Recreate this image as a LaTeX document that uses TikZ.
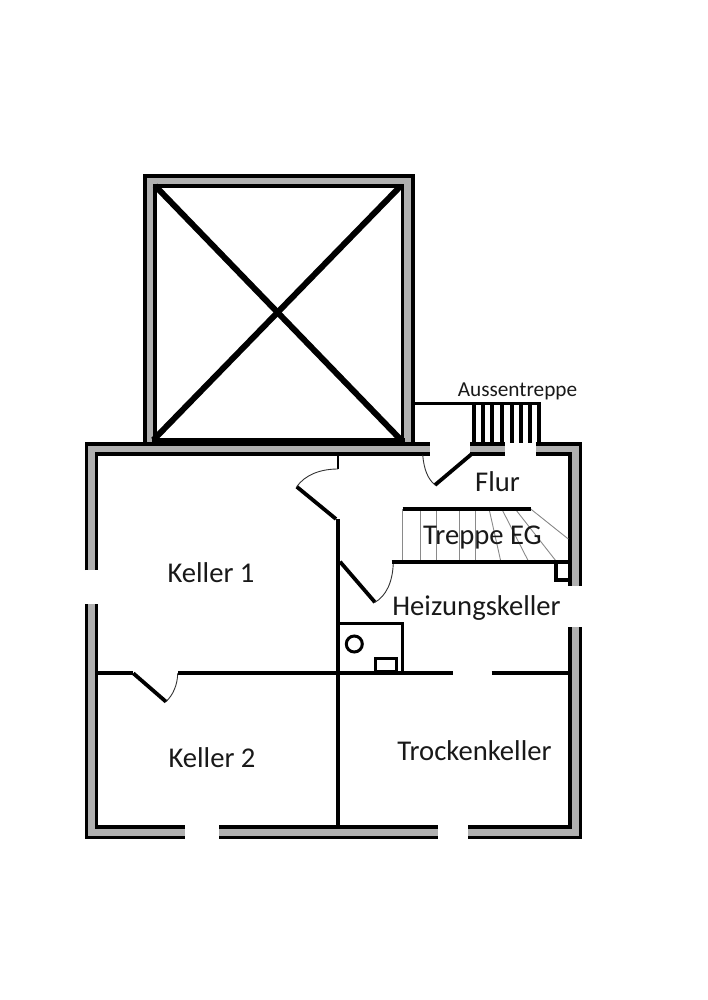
\documentclass[tikz,border=0pt]{standalone}
\usepackage{fontspec}
\setmainfont{Carlito}
\definecolor{wallgrey}{HTML}{B0B0B0}
\definecolor{treadgrey}{HTML}{8A8A8A}
\newcommand{\pxw}{0.5669pt}
\tikzset{
  x=0.02cm,y=-0.02cm,
  wallouter/.style={line width=13.8*\pxw,black,line cap=butt,line join=miter},
  wallinner/.style={line width=7*\pxw,wallgrey,line cap=butt,line join=miter},
  heavy/.style={line width=3.7*\pxw,black},
  medium/.style={line width=2.8*\pxw,black},
  diag/.style={line width=6*\pxw,black},
  doorleaf/.style={line width=3.8*\pxw,black},
  swing/.style={line width=0.9*\pxw,black!80},
  tread/.style={line width=0.9*\pxw,treadgrey},
  roomlabel/.style={font=\fontsize{16.3pt}{18pt}\selectfont,inner sep=0pt,text=black!90},
  smalllabel/.style={font=\fontsize{12.1pt}{13pt}\selectfont,inner sep=0pt,text=black!90},
}
\newcommand{\wall}[1]{\draw[wallouter] #1; \draw[wallinner] #1;}
\begin{document}
\begin{tikzpicture}
\useasboundingbox (0,0) rectangle (707,1000);
% upper square
\wall{(150,444) -- (150,181) -- (407.7,181) -- (407.7,444)}
\draw[line width=6.5*\pxw] (152,441.7) -- (405,441.7);
\draw[diag] (155,185.7) -- (402,441);
\draw[diag] (400,186.7) -- (153.3,440);
% main walls
\wall{(91.5,570) -- (91.5,449) -- (430,449)}
\wall{(470,449) -- (505,449)}
\wall{(536,449) -- (575.3,449) -- (575.3,586)}
\wall{(91.5,604) -- (91.5,832.3) -- (184.7,832.3)}
\wall{(219,832.3) -- (437.7,832.3)}
\wall{(468.3,832.3) -- (575.3,832.3) -- (575.3,626.7)}
% outside stair
\draw[medium] (414,403.5) -- (540.5,403.5);
\foreach \sx/\sy in {474/443,482.7/443,492.3/443,501.7/443,511.7/443,520.7/443,530/443,539.3/443}
  \draw[heavy] (\sx,403) -- (\sx,\sy);
% inner walls
\draw[medium] (338,455) -- (338,469);
\draw[heavy] (338,519) -- (338,826);
\draw[heavy] (98,673.3) -- (133.3,673.3);
\draw[heavy] (178,673.3) -- (453.3,673.3);
\draw[heavy] (491.7,673.3) -- (569,673.3);
% doors
\draw[doorleaf] (471.7,454) -- (435,485);
\draw[swing] (422.7,455) .. controls (424,470) and (428,479) .. (435,485);
\draw[doorleaf] (296.7,486.7) -- (336,519);
\draw[swing] (296.7,486.7) .. controls (305,475) and (320,469) .. (338,469);
\draw[doorleaf] (340,561.7) -- (375,602.3);
\draw[swing] (375,602.3) .. controls (386,596) and (393,582) .. (393.3,561.7);
\draw[doorleaf] (133.3,673.3) -- (166,701.7);
\draw[swing] (166,701.7) .. controls (173,695) and (177.5,685) .. (177.7,673.3);
% inner stair
\draw[tread] (402.7,509) -- (402.7,561);
\draw[tread] (420.7,509) -- (420.7,561);
\draw[tread] (436.7,509) -- (436.7,561);
\draw[tread] (459,509) -- (459,561);
\draw[tread] (475,509) -- (475,561);
\draw[tread] (489.3,510) -- (500.7,561);
\draw[tread] (502.3,510) -- (528.3,561);
\draw[tread] (516,510) -- (556,561);
\draw[tread] (530.7,509) -- (568.3,539);
\draw[heavy] (402.7,509) -- (530.7,509);
\draw[heavy] (391.7,561.7) -- (568,561.7);
\draw[heavy] (556,561.7) -- (556,580) -- (568.3,580);
% boiler room
\draw[medium] (338,623.3) -- (402.7,623.3) -- (402.7,673);
\draw[line width=3*\pxw] (354.3,644) circle (8);
\draw[line width=3*\pxw] (375.5,671.5) rectangle (396.3,658.8);
% labels
\node[smalllabel] (aussen) at (517.5,391) {Aussentreppe};
\node[roomlabel] (flur) at (497.5,482) {Flur};
\node[roomlabel] (treppe) at (482.5,537.5) {Treppe EG};
\node[roomlabel] (heiz) at (476.5,608) {Heizungskeller};
\node[roomlabel] (k1) at (211,573) {Keller 1};
\node[roomlabel] (k2) at (212,758) {Keller 2};
\node[roomlabel] (trocken) at (474.5,751) {Trockenkeller};
\end{tikzpicture}
\end{document}
